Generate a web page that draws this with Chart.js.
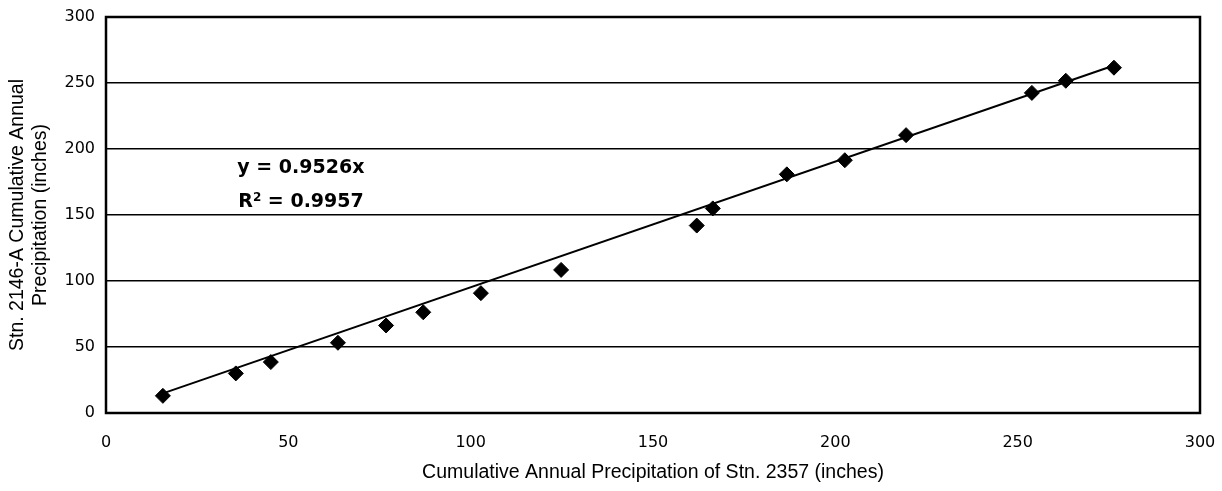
<!DOCTYPE html>
<html>
<head>
<meta charset="utf-8">
<script src="https://cdn.jsdelivr.net/npm/chart.js@4/dist/chart.umd.min.js"></script>
<style>
  html, body { margin: 0; padding: 0; background: #fff; }
  #wrap { width: 1222px; height: 491px; }
</style>
</head>
<body>
<div id="wrap"><canvas id="c" width="1222" height="491"></canvas></div>
<script>
// Data
const stn2357 = [15.6, 35.6, 45.2, 63.6, 76.8, 87.0, 102.8, 124.8, 162.0, 166.4, 186.7, 202.6, 219.4, 253.9, 263.2, 276.4];
const stn2146A = [13.0, 30.0, 38.6, 53.2, 66.3, 76.3, 90.8, 108.4, 142.0, 155.0, 180.8, 191.5, 210.5, 242.5, 251.7, 261.6];
const trendSlope = 0.9526;
const rSquared = 0.9957;
const xTicks = [0, 50, 100, 150, 200, 250, 300];
const yTicks = [0, 50, 100, 150, 200, 250, 300];
const xTitle = 'Cumulative Annual Precipitation of Stn. 2357 (inches)';
const yTitle = ['Stn. 2146-A Cumulative Annual', 'Precipitation (inches)'];

const points = stn2357.map((x, i) => ({ x: x, y: stn2146A[i] }));
const xFirst = stn2357[0], xLast = stn2357[stn2357.length - 1];
const trend = [{ x: xFirst, y: trendSlope * xFirst }, { x: xLast, y: trendSlope * xLast }];

const TICKFONT = '"DejaVu Sans", "Liberation Sans", Arial, sans-serif';
const TITLEFONT = '"Liberation Sans", Arial, sans-serif';
const EQFONT = '"DejaVu Sans", "Liberation Sans", Arial, sans-serif';

const framePlugin = {
  id: 'frame',
  beforeDatasetsDraw(chart) {
    const { ctx, chartArea: a } = chart;
    ctx.save();
    ctx.strokeStyle = '#000';
    ctx.lineWidth = 2.5;
    ctx.strokeRect(a.left, a.top, a.right - a.left, a.bottom - a.top);
    ctx.restore();
  },
  afterDatasetsDraw(chart) {
    const { ctx, scales } = chart;
    const x0 = scales.x.getPixelForValue(36);
    const y1 = scales.y.getPixelForValue(182);
    const y2 = scales.y.getPixelForValue(156);
    ctx.save();
    ctx.fillStyle = '#000';
    ctx.textBaseline = 'alphabetic';
    ctx.textAlign = 'left';
    ctx.font = 'bold 19px ' + EQFONT;
    ctx.fillText('y = ' + trendSlope.toFixed(4) + 'x', x0, y1);
    ctx.fillText('R', x0 + 1, y2);
    const rw = ctx.measureText('R').width;
    ctx.font = 'bold 12px ' + EQFONT;
    ctx.fillText('2', x0 + 1 + rw, y2 - 6);
    const sw = ctx.measureText('2').width;
    ctx.font = 'bold 19px ' + EQFONT;
    ctx.fillText(' = ' + rSquared.toFixed(4), x0 + 1 + rw + sw, y2);
    ctx.restore();
  }
};

new Chart(document.getElementById('c'), {
  type: 'scatter',
  data: {
    datasets: [
      {
        label: 'Trend',
        type: 'line',
        data: trend,
        borderColor: '#000',
        borderWidth: 2,
        pointRadius: 0,
        fill: false,
        order: 2
      },
      {
        label: 'Cumulative',
        data: points,
        pointStyle: 'rectRot',
        pointRadius: 7.5,
        pointHoverRadius: 7.5,
        backgroundColor: '#000',
        borderColor: '#000',
        order: 1
      }
    ]
  },
  options: {
    responsive: false,
    animation: false,
    events: [],
    layout: { padding: { top: 17, right: 22, left: 0, bottom: 0 } },
    plugins: { legend: { display: false }, tooltip: { enabled: false } },
    scales: {
      x: {
        type: 'linear',
        min: 0, max: 300,
        afterBuildTicks(s) { s.ticks = xTicks.map(v => ({ value: v })); },
        afterFit(s) { s.height = 78; s.paddingLeft = 0; s.paddingRight = 0; },
        grid: { display: false, drawTicks: false },
        border: { display: false },
        ticks: { color: '#000', font: { family: TICKFONT, size: 16 }, padding: 20, maxRotation: 0 },
        title: { display: true, text: xTitle, color: '#000', font: { family: TITLEFONT, size: 19.5 }, padding: { top: 0, bottom: 7 } }
      },
      y: {
        type: 'linear',
        min: 0, max: 300,
        afterBuildTicks(s) { s.ticks = yTicks.map(v => ({ value: v })); },
        afterFit(s) { s.width = 106; s.paddingTop = 0; s.paddingBottom = 0; },
        grid: { color: '#000', lineWidth: 1.4, drawTicks: false },
        border: { display: false },
        ticks: { color: '#000', font: { family: TICKFONT, size: 16 }, padding: 11 },
        title: { display: true, text: yTitle, color: '#000', font: { family: TITLEFONT, size: 19.5 }, padding: { top: 6, bottom: 0 } }
      }
    }
  },
  plugins: [framePlugin]
});
</script>
</body>
</html>
